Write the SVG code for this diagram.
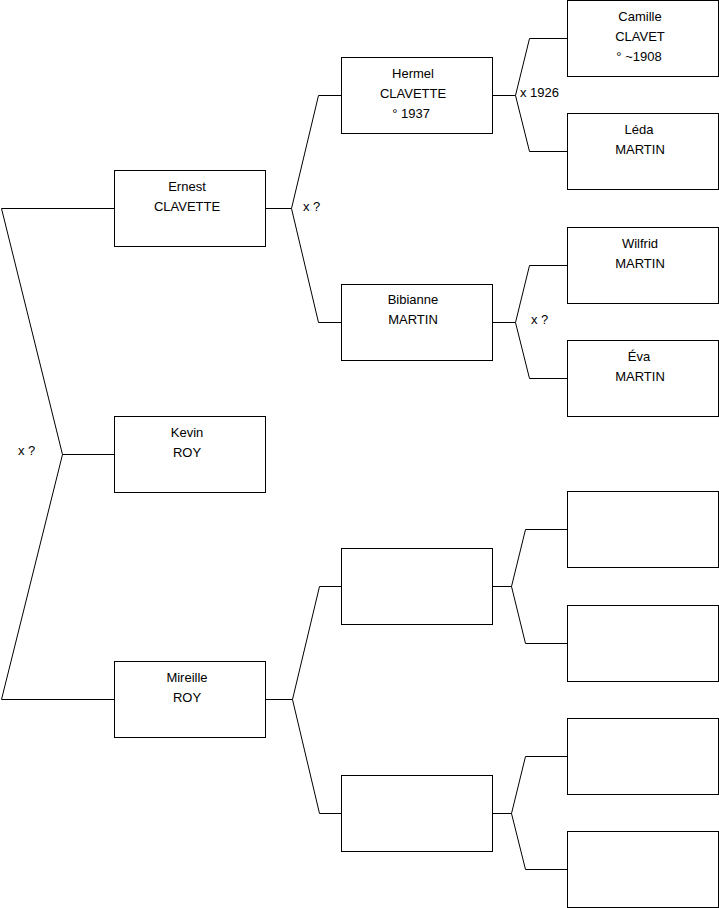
<svg xmlns="http://www.w3.org/2000/svg" width="719" height="908" viewBox="0 0 719 908">
<style>
.box{fill:#fff;stroke:#000;stroke-width:1}
.c{fill:none;stroke:#000;stroke-width:1}
text{font-family:"Liberation Sans",Arial,sans-serif;font-size:13px;fill:#000}
.n{text-anchor:middle}
</style>
<rect width="719" height="908" fill="#fff"/>
<g id="connectors">
<path class="c" d="M114,208.5 H1.5 L62.5,454.5 L1.5,699.5 H114 M62.5,454.5 H114"/>
<path class="c" d="M265,208.5 H291.5 M341,95.5 H318.5 L291.5,208.5 L318.5,322.5 H341"/>
<path class="c" d="M265,699.5 H292.5 M341,586.5 H319.5 L292.5,699.5 L319.5,813.5 H341"/>
<path class="c" d="M492,95.5 H515.5 M567,38.5 H529.5 L515.5,95.5 L529.5,151.5 H567"/>
<path class="c" d="M492,322.5 H515.5 M567,265.5 H529.5 L515.5,322.5 L529.5,378.5 H567"/>
<path class="c" d="M492,586.5 H511.5 M567,529.5 H525.5 L511.5,586.5 L525.5,643.5 H567"/>
<path class="c" d="M492,813.5 H511.5 M567,756.5 H525.5 L511.5,813.5 L525.5,869.5 H567"/>
<text x="18" y="455">x ?</text>
<text x="303" y="211">x ?</text>
<text x="520" y="97">x 1926</text>
<text x="531" y="324">x ?</text>
</g>
<g id="ernest"><rect class="box" x="114.5" y="170.5" width="151" height="76"/><text class="n" x="187" y="191">Ernest</text><text class="n" x="187" y="211">CLAVETTE</text></g>
<g id="kevin"><rect class="box" x="114.5" y="416.5" width="151" height="76"/><text class="n" x="187" y="437">Kevin</text><text class="n" x="187" y="457">ROY</text></g>
<g id="mireille"><rect class="box" x="114.5" y="661.5" width="151" height="76"/><text class="n" x="187" y="682">Mireille</text><text class="n" x="187" y="702">ROY</text></g>
<g id="hermel"><rect class="box" x="341.5" y="57.5" width="151" height="76"/><text class="n" x="413" y="78">Hermel</text><text class="n" x="413" y="98">CLAVETTE</text><text class="n" x="411" y="118">° 1937</text></g>
<g id="bibianne"><rect class="box" x="341.5" y="284.5" width="151" height="76"/><text class="n" x="413" y="304">Bibianne</text><text class="n" x="413" y="324">MARTIN</text></g>
<g id="empty1"><rect class="box" x="341.5" y="548.5" width="151" height="76"/></g>
<g id="empty2"><rect class="box" x="341.5" y="775.5" width="151" height="76"/></g>
<g id="camille"><rect class="box" x="567.5" y="0.5" width="151" height="76"/><text class="n" x="640" y="21">Camille</text><text class="n" x="640" y="41">CLAVET</text><text class="n" x="639" y="61">° ~1908</text></g>
<g id="leda"><rect class="box" x="567.5" y="113.5" width="151" height="76"/><text class="n" x="639" y="134">Léda</text><text class="n" x="640" y="154">MARTIN</text></g>
<g id="wilfrid"><rect class="box" x="567.5" y="227.5" width="151" height="76"/><text class="n" x="640" y="248">Wilfrid</text><text class="n" x="640" y="268">MARTIN</text></g>
<g id="eva"><rect class="box" x="567.5" y="340.5" width="151" height="76"/><text class="n" x="639" y="361">Éva</text><text class="n" x="640" y="381">MARTIN</text></g>
<g id="empty3"><rect class="box" x="567.5" y="491.5" width="151" height="76"/></g>
<g id="empty4"><rect class="box" x="567.5" y="605.5" width="151" height="76"/></g>
<g id="empty5"><rect class="box" x="567.5" y="718.5" width="151" height="76"/></g>
<g id="empty6"><rect class="box" x="567.5" y="831.5" width="151" height="76"/></g>
</svg>
